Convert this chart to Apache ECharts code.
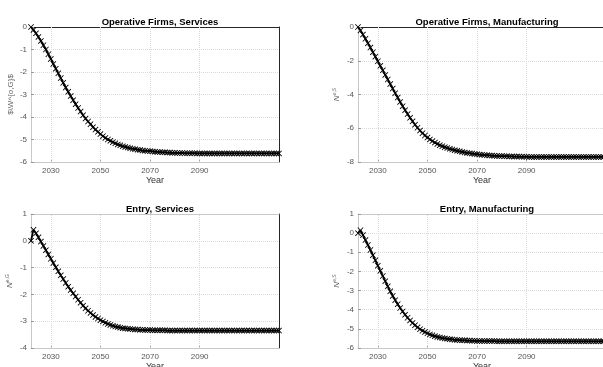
<!DOCTYPE html>
<html><head><meta charset="utf-8">
<script src="https://cdn.jsdelivr.net/npm/echarts@6/dist/echarts.min.js"></script>
<style>html,body{margin:0;padding:0;background:#fff}#c{width:603px;height:367px}</style>
</head><body><div id="c"></div>
<script>
const yearStart = 2022, yearEnd = 2122;
const years = [];
for (let y = yearStart; y <= yearEnd; y++) years.push(y);
const xTicks = [2030, 2050, 2070, 2090];

const titles = ['Operative Firms, Services', 'Operative Firms, Manufacturing', 'Entry, Services', 'Entry, Manufacturing'];
const yNames = ['$\\W^{o,G}$', '{a|N}{b|o,S}', '{a|N}{b|e,G}', '{a|N}{b|e,S}'];
const yRanges = [[-6, 0, 1], [-8, 0, 2], [-4, 1, 1], [-6, 1, 1]];

const operativeServices = [0,-0.13,-0.28,-0.44,-0.62,-0.81,-1.0,-1.21,-1.42,-1.64,-1.85,-2.06,-2.27,-2.48,-2.69,-2.88,-3.07,-3.25,-3.43,-3.6,
-3.76,-3.92,-4.07,-4.2,-4.32,-4.45,-4.56,-4.66,-4.76,-4.85,-4.93,-5.0,-5.06,-5.12,-5.17,-5.22,-5.26,-5.3,-5.33,-5.36,
-5.39,-5.41,-5.43,-5.45,-5.47,-5.49,-5.5,-5.51,-5.52,-5.53,-5.54,-5.55,-5.56,-5.57,-5.57,-5.58,-5.58,-5.59,-5.59,-5.6,
-5.6,-5.6,-5.61,-5.61,-5.61,-5.61,-5.61,-5.62,-5.62,-5.62,-5.62,-5.62,-5.62,-5.62,-5.62,-5.62,-5.62,-5.62,-5.62,-5.62,
-5.62,-5.62,-5.62,-5.62,-5.62,-5.62,-5.62,-5.62,-5.62,-5.62,-5.62,-5.62,-5.62,-5.62,-5.62,-5.62,-5.62,-5.62,-5.62,-5.62,-5.62];

const operativeManufacturing = [0,-0.2,-0.45,-0.7,-0.96,-1.22,-1.49,-1.76,-2.03,-2.3,-2.57,-2.84,-3.11,-3.38,-3.65,-3.92,-4.18,-4.44,-4.69,-4.93,
-5.16,-5.38,-5.59,-5.79,-5.97,-6.14,-6.29,-6.43,-6.55,-6.66,-6.76,-6.85,-6.93,-7.0,-7.06,-7.12,-7.17,-7.22,-7.26,-7.3,
-7.34,-7.37,-7.4,-7.43,-7.46,-7.48,-7.5,-7.52,-7.54,-7.56,-7.57,-7.59,-7.6,-7.61,-7.62,-7.63,-7.64,-7.65,-7.65,-7.66,
-7.66,-7.67,-7.67,-7.68,-7.68,-7.68,-7.69,-7.69,-7.69,-7.7,-7.7,-7.7,-7.7,-7.7,-7.7,-7.7,-7.7,-7.7,-7.7,-7.7,
-7.7,-7.7,-7.7,-7.7,-7.7,-7.7,-7.7,-7.7,-7.7,-7.7,-7.7,-7.7,-7.7,-7.7,-7.7,-7.7,-7.7,-7.7,-7.7,-7.7,-7.7];

const entryServices = [0,0.41,0.28,0.13,-0.03,-0.19,-0.35,-0.51,-0.67,-0.83,-0.99,-1.14,-1.29,-1.43,-1.57,-1.71,-1.84,-1.96,-2.08,-2.2,
-2.31,-2.42,-2.52,-2.61,-2.69,-2.77,-2.84,-2.9,-2.96,-3.01,-3.06,-3.1,-3.14,-3.17,-3.2,-3.22,-3.24,-3.26,-3.27,-3.28,
-3.29,-3.3,-3.31,-3.31,-3.32,-3.32,-3.33,-3.33,-3.33,-3.34,-3.34,-3.34,-3.34,-3.34,-3.34,-3.35,-3.35,-3.35,-3.35,-3.35,
-3.35,-3.35,-3.35,-3.35,-3.35,-3.35,-3.35,-3.35,-3.35,-3.35,-3.35,-3.35,-3.35,-3.35,-3.35,-3.35,-3.35,-3.35,-3.35,-3.35,
-3.35,-3.35,-3.35,-3.35,-3.35,-3.35,-3.35,-3.35,-3.35,-3.35,-3.35,-3.35,-3.35,-3.35,-3.35,-3.35,-3.35,-3.35,-3.35,-3.35,-3.35];

const entryManufacturing = [0,0.15,-0.1,-0.36,-0.62,-0.88,-1.15,-1.42,-1.7,-1.97,-2.24,-2.51,-2.78,-3.04,-3.28,-3.5,-3.71,-3.91,-4.09,-4.26,
-4.42,-4.56,-4.69,-4.81,-4.92,-5.02,-5.1,-5.17,-5.23,-5.29,-5.34,-5.38,-5.42,-5.45,-5.48,-5.5,-5.52,-5.54,-5.55,-5.57,
-5.58,-5.59,-5.6,-5.6,-5.61,-5.61,-5.62,-5.62,-5.63,-5.63,-5.63,-5.64,-5.64,-5.64,-5.64,-5.64,-5.65,-5.65,-5.65,-5.65,
-5.65,-5.65,-5.65,-5.65,-5.65,-5.65,-5.65,-5.65,-5.65,-5.65,-5.65,-5.65,-5.65,-5.65,-5.65,-5.65,-5.65,-5.65,-5.65,-5.65,
-5.65,-5.65,-5.65,-5.65,-5.65,-5.65,-5.65,-5.65,-5.65,-5.65,-5.65,-5.65,-5.65,-5.65,-5.65,-5.65,-5.65,-5.65,-5.65,-5.65,-5.65];

const seriesData = [operativeServices, operativeManufacturing, entryServices, entryManufacturing];

const FONT = 'Liberation Sans';
const grids = [
  {left: 31, top: 27, width: 248, height: 135},
  {left: 358, top: 27, width: 248, height: 135},
  {left: 31, top: 214, width: 248, height: 134},
  {left: 358, top: 214, width: 248, height: 134}
];
const topColors = ['#262626', '#262626', '#c8c8c8', '#c8c8c8'];
const xMark = 'path://M0,1L1,0L5,4L9,0L10,1L6,5L10,9L9,10L5,6L1,10L0,9L4,5Z';

const option = {
  animation: false,
  backgroundColor: '#fff',
  title: [], grid: [], xAxis: [], yAxis: [], series: []
};

grids.forEach((g, i) => {
  option.grid.push(Object.assign({outerBoundsMode: 'none', containLabel: false}, g));
  option.title.push({
    text: titles[i],
    left: g.left + g.width / 2, top: g.top - 15, textAlign: 'center',
    textStyle: {fontFamily: FONT, fontSize: 9.5, fontWeight: 'bold', color: '#000'}
  });
  option.xAxis.push({
    type: 'value', gridIndex: i, min: yearStart, max: yearEnd,
    name: 'Year', nameLocation: 'middle', nameGap: 14,
    nameTextStyle: {fontFamily: FONT, fontSize: 9, color: '#333'},
    axisLine: {show: true, onZero: false, lineStyle: {color: '#c8c8c8', width: 1}},
    axisTick: {show: true, inside: true, length: 3, customValues: xTicks, lineStyle: {color: '#999'}},
    axisLabel: {customValues: xTicks, formatter: v => String(v), fontFamily: FONT, fontSize: 8, color: '#555', margin: 5},
    splitLine: {show: false}
  });
  option.xAxis.push({
    type: 'value', gridIndex: i, position: 'top', min: yearStart, max: yearEnd,
    axisLine: {show: true, onZero: false, lineStyle: {color: topColors[i], width: 1}},
    axisTick: {show: false}, axisLabel: {show: false}, splitLine: {show: false}
  });
  const r = yRanges[i];
  option.yAxis.push({
    type: 'value', gridIndex: i, min: r[0], max: r[1], interval: r[2],
    name: yNames[i], nameLocation: 'middle', nameGap: i === 0 ? 16 : 17, nameRotate: 90,
    nameTextStyle: {fontFamily: FONT, fontSize: 8, color: '#666',
      rich: {a: {fontFamily: FONT, fontSize: 8, color: '#666', fontStyle: 'italic'},
             b: {fontFamily: FONT, fontSize: 5, color: '#666', verticalAlign: 'top', padding: [0,0,4,0]}}},
    axisLine: {show: true, onZero: false, lineStyle: {color: '#c8c8c8', width: 1}},
    axisTick: {show: true, inside: true, length: 3, lineStyle: {color: '#999'}},
    axisLabel: {fontFamily: FONT, fontSize: 8, color: '#555', margin: 4},
    splitLine: {show: true, lineStyle: {color: '#dadada', type: [1, 1], width: 1}}
  });
  option.yAxis.push({
    type: 'value', gridIndex: i, position: 'right', min: r[0], max: r[1], interval: r[2],
    axisLine: {show: true, onZero: false, lineStyle: {color: '#262626', width: 1}},
    axisTick: {show: false}, axisLabel: {show: false}, splitLine: {show: false}
  });
  option.series.push({
    type: 'line', xAxisIndex: 2 * i, yAxisIndex: 2 * i, data: [], z: 1, silent: true,
    markLine: {
      silent: true, symbol: 'none', label: {show: false}, animation: false,
      lineStyle: {color: '#dadada', type: [1, 1], width: 1},
      data: xTicks.map(v => ({xAxis: v}))
    }
  });
  option.series.push({
    type: 'line', xAxisIndex: 2 * i, yAxisIndex: 2 * i,
    data: years.map((y, k) => [y, seriesData[i][k]]),
    symbol: xMark, symbolSize: 6, showSymbol: true,
    lineStyle: {color: '#000', width: 1.8},
    itemStyle: {color: '#000'},
    z: 5
  });
});

const chart = echarts.init(document.getElementById('c'), null, {renderer: 'canvas'});
chart.setOption(option);
</script>
</body></html>
